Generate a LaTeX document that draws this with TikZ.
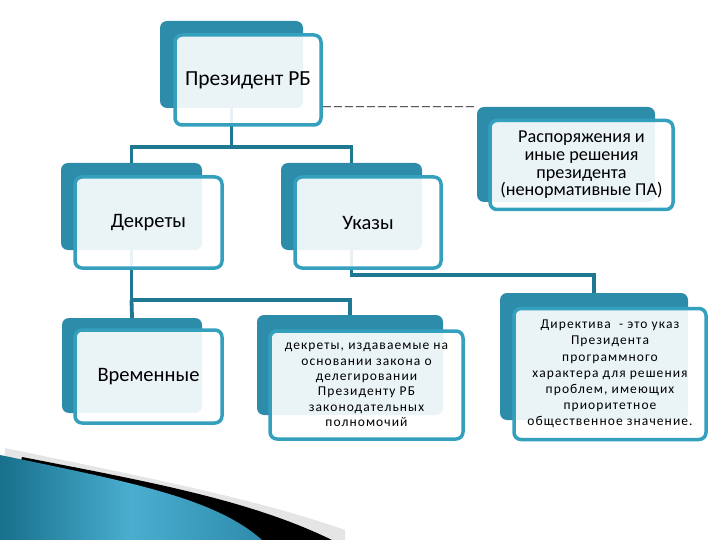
\documentclass[tikz,border=0pt]{standalone}
\usepackage{fontspec}
\setmainfont{Carlito}
\newfontfamily\spacedfont[LetterSpace=8]{Carlito}
\usetikzlibrary{calc}

\definecolor{backteal}{HTML}{2E8CAB}
\definecolor{frameteal}{HTML}{35A0BD}
\definecolor{linkteal}{HTML}{1F7892}
\definecolor{swdark}{HTML}{17708C}
\definecolor{swlight}{HTML}{4AAED0}

\begin{document}
\begin{tikzpicture}[x=1pt,y=-1pt,
  backbox/.style={fill=backteal, rounded corners=7pt, inner sep=0pt},
  frontbox/.style={draw=frameteal, line width=3.5pt, fill=white, fill opacity=0.9,
    text opacity=1, rounded corners=7pt, inner sep=0pt, align=center,
    font=\fontsize{20.5}{24}\selectfont},
  midtext/.style={font=\fontsize{18.2}{17.6}\selectfont},
  smalltext/.style={font=\spacedfont\fontsize{13.5}{15.3}\selectfont},
  link/.style={linkteal, line width=3.8pt}]

  \useasboundingbox (0,0) rectangle (720,540);

	% Swoosh in the corner
	\fill[black!10] (5,448) .. controls (150,478) and (260,500) .. (345,530) -- (345,540) -- (0,540) -- cycle;
	\fill[black] (22,457) .. controls (150,482) and (250,500) .. (332,540) -- (0,540) -- cycle;
	\shade[left color=swdark, right color=backteal, middle color=swlight]
	  (0,455) .. controls (130,482) and (215,498) .. (262,540) -- (0,540) -- cycle;

	% Back boxes
	\node[backbox, minimum width=143pt, minimum height=87pt] (presB) at (231.5,64.5) {};
	\node[backbox, minimum width=178pt, minimum height=95pt] (raspB) at (566,154.5) {};
	\node[backbox, minimum width=141pt, minimum height=87pt] (dekrB) at (131.5,206.5) {};
	\node[backbox, minimum width=141pt, minimum height=87pt] (ukazB) at (351.5,206.5) {};
	\node[backbox, minimum width=140pt, minimum height=95pt] (vremB) at (132,365.5) {};
	\node[backbox, minimum width=186pt, minimum height=100pt] (delegB) at (350,365) {};
	\node[backbox, minimum width=188pt, minimum height=127pt] (dirB) at (594,356.5) {};

	% Links
	\coordinate (t1) at ($(presB.south)+(0,39)$);
	\draw[link] (presB.south) -- (t1);
	\draw[link] (dekrB.north) |- (t1) -| (ukazB.north);
	\coordinate (t2) at ($(dekrB.south)+(0,50)$);
	\draw[link] (dekrB.south) -- (t2) -| (delegB.north);
	\draw[link] (t2) -- (vremB.north);
	\draw[link] (ukazB.south) -- ++(0,25) -| (dirB.north);

	% Front boxes
	\node[frontbox, minimum width=146pt, minimum height=90pt, font=\fontsize{21.5}{24}\selectfont] (pres) at (248,80) {Президент РБ};
	\node[frontbox, minimum width=183pt, minimum height=89pt, midtext] (rasp) at (581.5,165)
	  {Распоряжения и\\иные решения\\президента\\(ненормативные ПА)};
	\node[frontbox, minimum width=147pt, minimum height=91pt] (dekr) at (148.5,222.5) {Декреты};
	\node[frontbox, minimum width=146pt, minimum height=91pt] (ukaz) at (368,222.5) {Указы};
	\node[frontbox, minimum width=147pt, minimum height=93pt] (vrem) at (148.5,376.5) {Временные};
	\node[frontbox, minimum width=193pt, minimum height=108pt, smalltext] (deleg) at (366.5,385)
	  {декреты, издаваемые на\\основании закона о\\делегировании\\Президенту РБ\\законодательных\\полномочий};
	\node[frontbox, minimum width=192pt, minimum height=131pt, smalltext,
	  font=\spacedfont\fontsize{13.5}{16.2}\selectfont] (dir) at (610,374)
	  {Директива \ - это указ\\Президента\\программного\\характера для решения\\проблем, имеющих\\приоритетное\\общественное значение.};

	% Dashed link
	\draw[black, line width=0.8pt, dash pattern=on 8pt off 3pt] ($(pres.south east)+(0,-20)$) -- (raspB.north west);

\end{tikzpicture}
\end{document}
